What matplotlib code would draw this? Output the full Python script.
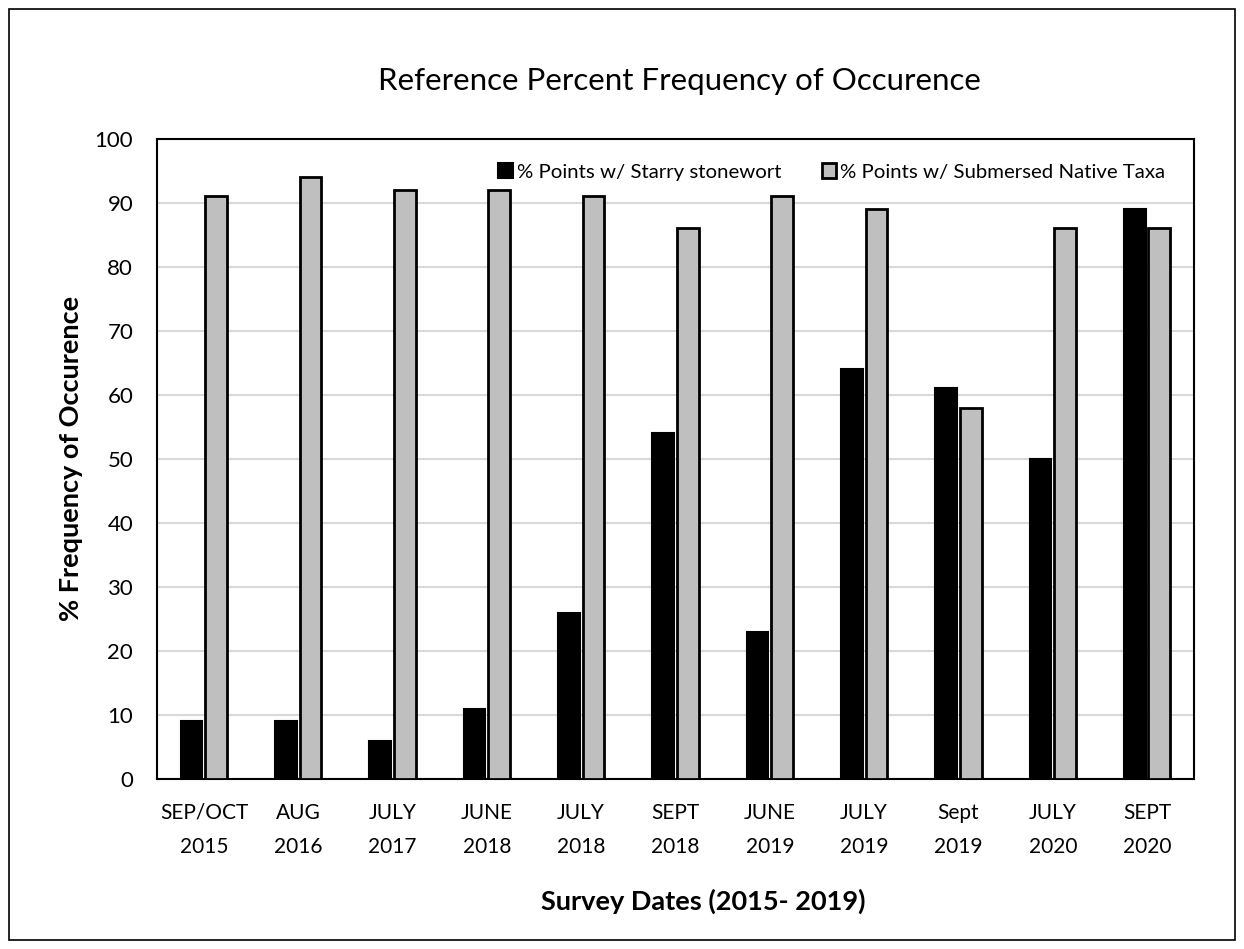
import matplotlib.pyplot as plt
from matplotlib.patches import Rectangle
import numpy as np

# survey dates and frequency of occurrence values
dates = ["SEP/OCT\n2015", "AUG\n2016", "JULY\n2017", "JUNE\n2018", "JULY\n2018",
         "SEPT\n2018", "JUNE\n2019", "JULY\n2019", "Sept\n2019", "JULY\n2020", "SEPT\n2020"]
starry = [9, 9, 6, 11, 26, 54, 23, 64, 61, 50, 89]
native = [91, 94, 92, 92, 91, 86, 91, 89, 58, 86, 86]

plt.rcParams['font.family'] = ['Lato', 'DejaVu Sans']

fig = plt.figure(figsize=(12.44, 9.49), dpi=100)
ax = fig.add_axes([0.126, 0.179, 0.834, 0.675])

x = np.arange(len(dates))
w = 0.23
ax.bar(x - 0.13, starry, w, color='black', edgecolor='black', linewidth=1.5,
       label='% Points w/ Starry stonewort', zorder=3)
ax.bar(x + 0.13, native, w, color='#bfbfbf', edgecolor='black', linewidth=2,
       label='% Points w/ Submersed Native Taxa', zorder=3)

ax.set_xlim(-0.5, len(dates) - 0.5)
ax.set_ylim(0, 100)
ax.set_yticks(range(0, 101, 10))
ax.set_xticks(x)
ax.set_xticklabels(dates, fontsize=15, linespacing=1.9)
ax.tick_params(axis='y', labelsize=16, length=0, pad=17)
ax.tick_params(axis='x', length=0, pad=17)
ax.grid(axis='y', color='#d9d9d9', linewidth=1.5, zorder=0)
for s in ax.spines.values():
    s.set_linewidth(1.5)
    s.set_color('black')

ax.set_ylabel('% Frequency of Occurence', fontsize=19.5, fontweight='bold')
ax.yaxis.set_label_coords(-0.071, 0.5)
ax.set_xlabel('Survey Dates (2015- 2019)', fontsize=19.5, fontweight='bold')
ax.xaxis.set_label_coords(0.527, -0.171)
fig.text(0.546, 0.915, 'Reference Percent Frequency of Occurence', ha='center',
         va='center', fontsize=22.5)

ax.legend(loc='upper right', bbox_to_anchor=(0.99, 0.99), ncol=2, frameon=False,
          fontsize=14.7, handlelength=0.7, handleheight=0.7, handletextpad=0.2,
          columnspacing=2.0)

# outer border around the whole figure
fig.patches.append(Rectangle((0.007, 0.009), 0.986, 0.982, transform=fig.transFigure,
                             fill=False, edgecolor='black', linewidth=1.2))

fig.savefig('out.png', dpi=100)
